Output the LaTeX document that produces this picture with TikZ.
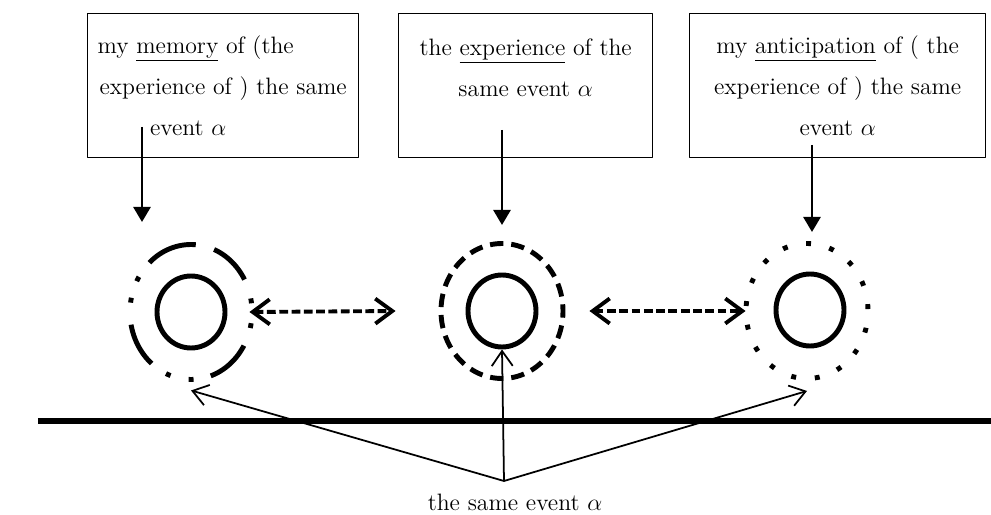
\RequirePackage{fix-cm}
\documentclass[tikz,border=0pt]{standalone}
\usepackage{fontspec}
\usetikzlibrary{arrows.meta,shapes.geometric,positioning}
\begin{document}
\begin{tikzpicture}[line join=round,font=\fontsize{13.5}{23.5}\selectfont,
		textbox/.style={draw,line width=0.8pt,inner sep=0pt,anchor=north west,minimum height=2.88cm},
		boxtext/.style={align=center,inner sep=0pt},
		core/.style={ellipse,draw,line width=2.8pt,inner sep=0pt,minimum width=1.36cm,minimum height=1.44cm},
		ring/.style={ellipse,draw,line width=2.8pt,inner sep=0pt,minimum width=2.44cm,minimum height=2.7cm},
		down/.style={-{Triangle[length=3mm,width=3.4mm]},line width=1.5pt},
		link/.style={{Straight Barb[length=3.4mm,width=5mm]}-{Straight Barb[length=3.4mm,width=5mm]},line width=2.2pt,dash pattern=on 5pt off 2pt},
		same/.style={-{Straight Barb[length=3mm,width=4.2mm]},line width=1pt}]
		\useasboundingbox (0,0) rectangle (19.82,10.3);
		\node[textbox,minimum width=5.42cm] (memBox) at (1.74,10.04) {};
		\node[textbox,minimum width=5.08cm] (expBox) at (7.96,10.04) {};
		\node[textbox,minimum width=5.92cm] (ancBox) at (13.78,10.04) {};
		\node[boxtext,below=0.44cm of memBox.north] (memText) {my \underline{memory} of (the\hspace*{1.1cm}\\experience of ) the same\\event $\alpha$\hspace*{1.4cm}};
		\node[boxtext,below=0.5cm of expBox.north] (expText) {the \underline{experience} of the\\same event $\alpha$};
		\node[boxtext,below=0.44cm of ancBox.north] (ancText) {my \underline{anticipation} of ( the\\experience of ) the same\\event $\alpha$};
		\node[ring,dash pattern=on 2.8pt off 11.33pt on 24.82pt off 10.82pt on 29.27pt off 10.05pt on 2.8pt off 9.93pt on 2.8pt off 12.6pt on 25.45pt off 10.05pt on 2.8pt off 10.56pt on 2.8pt off 10.05pt on 26.09pt off 10.69pt on 2.8pt off 10.56pt,dash phase=224.1pt] (memRing) at (3.82,4.06) {};
		\node[ring,dash pattern=on 7.6pt off 4.5pt,dash phase=3.8pt] (expRing) at (10.04,4.08) {};
		\node[ring,dash pattern=on 2.8pt off 10.72pt,dash phase=12.4pt] (ancRing) at (16.14,4.08) {};
		\node[core] (memCore) at (3.82,4.06) {};
		\node[core] (expCore) at (10.04,4.08) {};
		\node[core] (ancCore) at (16.2,4.1) {};
		\coordinate (memFrom) at (2.84,7.76);
		\coordinate (memTo) at (2.84,5.86);
		\coordinate (expFrom) at (10.04,7.7);
		\coordinate (expTo) at (10.04,5.8);
		\coordinate (ancFrom) at (16.24,7.4);
		\coordinate (ancTo) at (16.24,5.66);
		\draw[down] (memFrom)--(memTo);
		\draw[down] (expFrom)--(expTo);
		\draw[down] (ancFrom)--(ancTo);
		\draw[link] ([xshift=-0.1cm]memRing.east)--([xshift=-0.86cm]expRing.west);
		\draw[link] ([xshift=0.48cm]expRing.east)--([xshift=0.04cm]ancRing.west);
		\draw[line width=3pt] (0.76,1.88)--(19.82,1.88);
		\node[anchor=base] (sameText) at (10.3,0.08) {the same event $\alpha$};
		\coordinate (sameEv) at (10.08,0.68);
		\draw[same] (sameEv)--([yshift=-0.17cm]memRing.south);
		\draw[same] (sameEv)--(expCore.south);
		\draw[same] (sameEv)--([yshift=-0.2cm]ancRing.south);
\end{tikzpicture}
\end{document}
